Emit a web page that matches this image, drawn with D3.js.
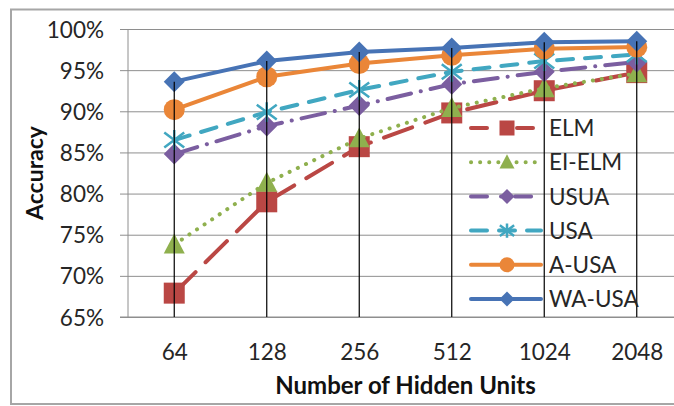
<!DOCTYPE html>
<html>
<head>
<meta charset="utf-8">
<script src="https://cdn.jsdelivr.net/npm/d3@7"></script>
<style>
  html, body { margin: 0; padding: 0; background: #fff; }
  svg { display: block; }
  text { font-family: Lato, "Open Sans", sans-serif; }
</style>
</head>
<body>
<svg id="chart" width="674" height="406"></svg>
<script>
// ---- data ----
const categories = ["64", "128", "256", "512", "1024", "2048"];
const seriesNames = ["ELM", "EI-ELM", "USUA", "USA", "A-USA", "WA-USA"];
const elm   = [67.9, 79.0, 85.7, 89.8, 92.5, 94.7];
const eiElm = [73.8, 81.3, 86.7, 90.4, 92.8, 94.6];
const usua  = [84.8, 88.2, 90.7, 93.3, 94.8, 96.0];
const usa   = [86.5, 89.9, 92.6, 94.8, 96.1, 96.9];
const aUsa  = [90.2, 94.2, 95.8, 96.8, 97.6, 97.8];
const waUsa = [93.6, 96.1, 97.2, 97.7, 98.4, 98.5];
const yTicks = [65, 70, 75, 80, 85, 90, 95, 100];
const xTitle = "Number of Hidden Units";
const yTitle = "Accuracy";

const seriesValues = [elm, eiElm, usua, usa, aUsa, waUsa];
const colors = ["#BA4744", "#8FB04E", "#7B5EA0", "#41A7C1", "#EA8638", "#4773B5"];
const dashes = ["30,14", "0.1,9", "24,10,0.1,10", "16,12", null, null];
const markers = ["square", "triangle", "diamond", "star", "circle", "diamond"];

const svg = d3.select("#chart");
const W = 674, H = 406;
const plot = { left: 128, right: 683, top: 29, bottom: 317 };

const x = d3.scalePoint().domain(categories).range([plot.left, plot.right]).padding(0.5);
const y = d3.scaleLinear().domain([65, 100]).range([plot.bottom, plot.top]);

// outer border
svg.append("rect").attr("x", 11).attr("y", 9.5).attr("width", 700).attr("height", 394.5)
  .attr("fill", "none").attr("stroke", "#a6a6a6").attr("stroke-width", 2);

// gridlines
const yAxis = d3.axisLeft(y).tickValues(yTicks).tickFormat(d => d + "%")
  .tickSize(-(W - plot.left)).tickPadding(24);
const gy = svg.append("g").attr("transform", `translate(${plot.left},0)`).call(yAxis);
gy.select(".domain").remove();
gy.selectAll(".tick line").attr("stroke", "#8e8e8e").attr("x1", -8).attr("stroke-width", 1);
gy.selectAll(".tick text").attr("font-size", 22.5).attr("fill", "#262626")
  .attr("font-family", "Lato, sans-serif").attr("dy", "0.36em");

// left axis line
svg.append("line").attr("x1", plot.left).attr("x2", plot.left)
  .attr("y1", plot.top).attr("y2", plot.bottom).attr("stroke", "#8e8e8e");

// x axis
const xAxis = d3.axisBottom(x).tickSize(0).tickPadding(27);
const gx = svg.append("g").attr("transform", `translate(0,${plot.bottom})`).call(xAxis);
gx.select(".domain").remove();
gx.selectAll(".tick text").attr("font-size", 22.5).attr("fill", "#262626")
  .attr("font-family", "Lato, sans-serif");
svg.append("line").attr("x1", plot.left - 8).attr("x2", W)
  .attr("y1", plot.bottom).attr("y2", plot.bottom).attr("stroke", "#8e8e8e");

// series
const line = d3.line().x((d, i) => x(categories[i])).y(d => y(d));

function drawMarker(g, type, cx, cy, size, color) {
  const s = size / 2;
  if (type === "square") {
    g.append("rect").attr("x", cx - s).attr("y", cy - s).attr("width", size).attr("height", size)
      .attr("fill", color);
  } else if (type === "triangle") {
    g.append("path").attr("d", `M${cx},${cy - s * 1.05}L${cx + s},${cy + s * 0.85}L${cx - s},${cy + s * 0.85}Z`)
      .attr("fill", color);
  } else if (type === "diamond") {
    g.append("path").attr("d", `M${cx},${cy - s}L${cx + s},${cy}L${cx},${cy + s}L${cx - s},${cy}Z`)
      .attr("fill", color);
  } else if (type === "circle") {
    g.append("circle").attr("cx", cx).attr("cy", cy).attr("r", s).attr("fill", color);
  } else if (type === "star") {
    const r = s * 0.95;
    g.append("path")
      .attr("d", `M${cx - r},${cy - r * 0.75}L${cx + r},${cy + r * 0.75}M${cx - r},${cy + r * 0.75}L${cx + r},${cy - r * 0.75}M${cx},${cy - r}L${cx},${cy + r}`)
      .attr("stroke", color).attr("stroke-width", 2.5).attr("fill", "none");
  }
}

seriesValues.forEach((vals, si) => {
  const g = svg.append("g");
  const p = g.append("path").datum(vals).attr("d", line).attr("fill", "none")
    .attr("stroke", colors[si]).attr("stroke-width", 4)
    .attr("stroke-linecap", "round").attr("stroke-linejoin", "round");
  if (dashes[si]) p.attr("stroke-dasharray", dashes[si]);
  vals.forEach((v, i) => drawMarker(g, markers[si], x(categories[i]), y(v), 21, colors[si]));
});

// drop lines from highest point to axis
categories.forEach((c, i) => {
  const top = d3.max(seriesValues, s => s[i]);
  svg.append("line").attr("x1", x(c)).attr("x2", x(c))
    .attr("y1", y(top)).attr("y2", y(65)).attr("stroke", "#000").attr("stroke-width", 1.2);
});

// legend
const lg = svg.append("g");
seriesNames.forEach((name, si) => {
  const ly = 128 + si * 34.2;
  const l = lg.append("line").attr("x1", 471).attr("x2", 541).attr("y1", ly).attr("y2", ly)
    .attr("stroke", colors[si]).attr("stroke-width", 4).attr("stroke-linecap", "round");
  if (dashes[si]) l.attr("stroke-dasharray", si === 0 ? "16,30" : si === 2 ? "16,14,0.1,14" : si === 3 ? "16,12" : dashes[si]);
  drawMarker(lg, markers[si], 507, ly, 15, colors[si]);
  lg.append("text").attr("x", 549).attr("y", ly).attr("dy", "0.36em")
    .attr("font-size", 22.5).attr("fill", "#262626").text(name);
});

// axis titles
svg.append("text").attr("x", (plot.left + plot.right) / 2).attr("y", 394)
  .attr("text-anchor", "middle").attr("font-size", 24).attr("font-weight", "bold")
  .attr("fill", "#111").text(xTitle);
svg.append("text").attr("transform", `translate(43,173) rotate(-90)`)
  .attr("text-anchor", "middle").attr("font-size", 23).attr("font-weight", "bold")
  .attr("fill", "#111").text(yTitle);
</script>
</body>
</html>
